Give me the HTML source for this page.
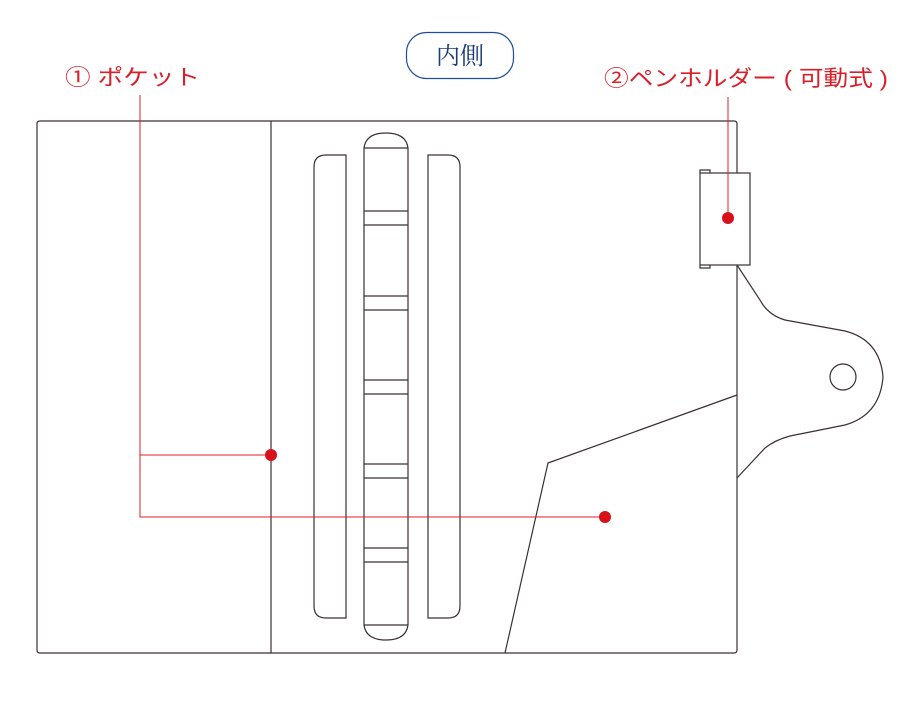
<!DOCTYPE html>
<html><head><meta charset="utf-8"><style>
html,body{margin:0;padding:0;background:#fff;}
svg{display:block;}
</style></head><body>
<svg width="920" height="720" viewBox="0 0 920 720" xmlns="http://www.w3.org/2000/svg">
<g fill="none" stroke="#3a3030" stroke-width="1.2">
<path d="M40,121 H734 Q737,121 737,124 V650 Q737,653 734,653 H40 Q37,653 37,650 V124 Q37,121 40,121 Z"/>
<line x1="271" y1="121" x2="271" y2="653"/>
<path d="M346,155 H326 Q314,155 314,167 V606 Q314,618 326,618 H346 Z"/>
<path d="M428,155 H448 Q460,155 460,167 V606 Q460,618 448,618 H428 Z"/>
<path d="M364,148 Q366,133 386,133 Q406,133 408,148 V625 Q406,640 386,640 Q366,640 364,625 Z"/>
<line x1="364" y1="148" x2="408" y2="148"/>
<line x1="364" y1="625" x2="408" y2="625"/>
<path d="M364,211H408M364,225H408M364,296H408M364,310H408M364,380H408M364,394H408M364,464H408M364,478H408M364,548H408M364,562H408"/>
<rect x="700" y="173" width="50" height="92" fill="#fff"/>
<path d="M700,173 V170 H710 V173 M700,265 V268 H710 V265"/>
<path d="M737,265 L760,300 Q768,315 785,320 L845,331 Q880,340 883,377 Q880,415 845,425 L790,436 Q775,440 765,448 L737,478"/>
<circle cx="843" cy="377" r="13"/>
<path d="M737,395 L548,463 L505,653"/>
</g>
<rect x="406.5" y="32.5" width="107" height="46" rx="20" fill="#fff" stroke="#1c4f9c" stroke-width="1.2"/>
<text x="460" y="64" text-anchor="middle" font-family="'Liberation Serif','Noto Serif CJK SC',serif" font-size="24" fill="#1c3a7a">内側</text>
<g stroke="#d8202a" stroke-width="1" fill="none">
<path d="M140,95 V517 H605 M140,455 H271 M728,97 V218"/>
</g>
<g fill="#d8101a">
<circle cx="271" cy="455" r="6"/>
<circle cx="605" cy="517" r="6"/>
<circle cx="728" cy="218" r="6"/>
</g>
<text x="65" y="85" font-family="'Liberation Sans','Noto Sans CJK JP',sans-serif" font-size="22" fill="#d8202a" textLength="135" lengthAdjust="spacingAndGlyphs">① ポケット</text>
<text x="604" y="86" font-family="'Liberation Sans','Noto Sans CJK JP',sans-serif" font-size="22" fill="#d8202a" textLength="284" lengthAdjust="spacingAndGlyphs">②ペンホルダー ( 可動式 )</text>
</svg>
</body></html>
